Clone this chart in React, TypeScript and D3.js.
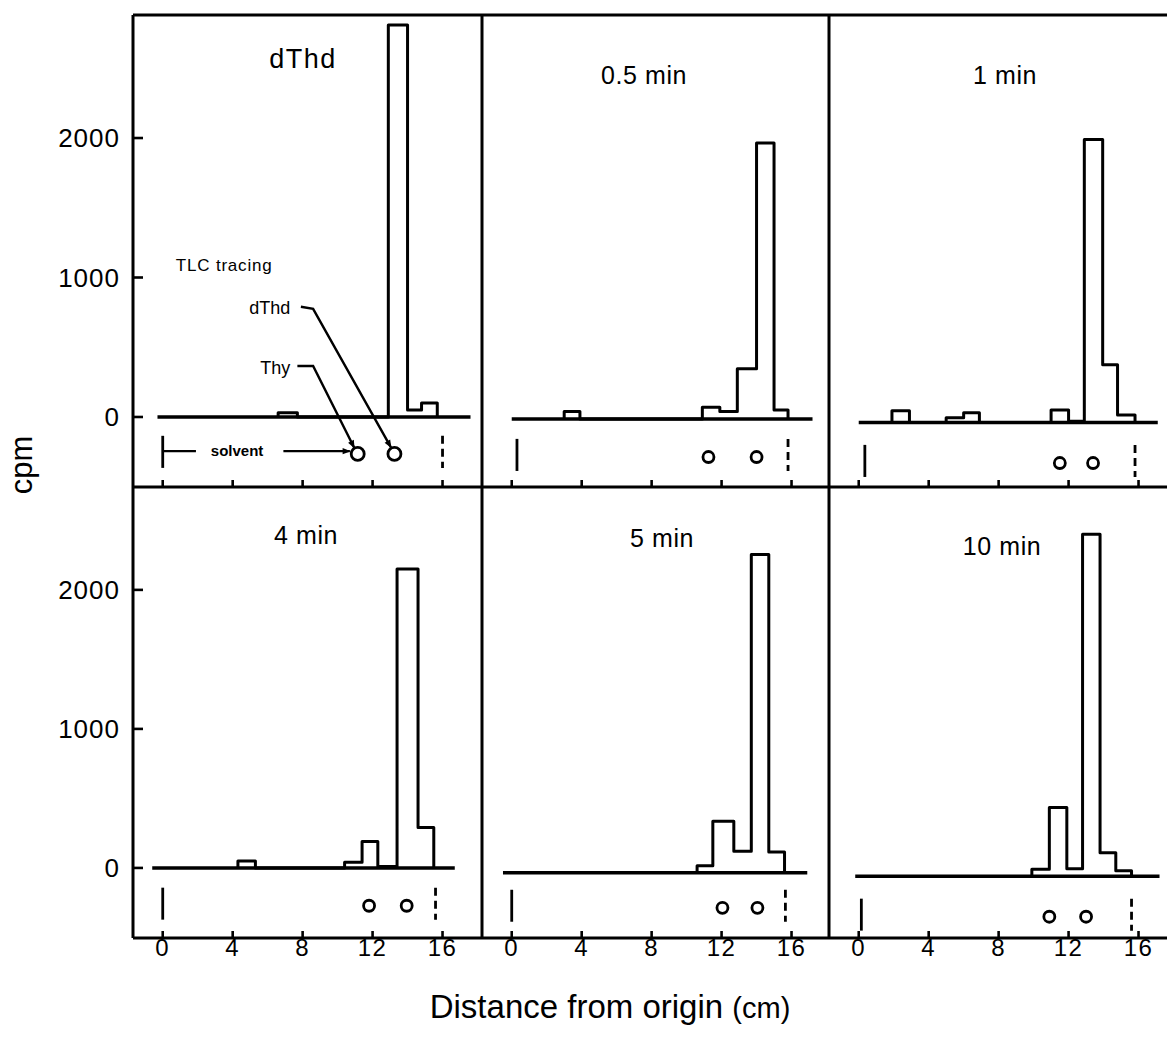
import React from 'react';
import * as d3 from 'd3';

// TLC radioactivity scans, cpm per strip (cm from origin)
const panelTitles = ['dThd', '0.5 min', '1 min', '4 min', '5 min', '10 min'];
const xTicks = [0, 4, 8, 12, 16];
const yTicks = [0, 1000, 2000];

const binsDThd = [
  { x0: 6.6, x1: 7.7, cpm: 30 },
  { x0: 12.9, x1: 14.0, cpm: 2810 },
  { x0: 14.0, x1: 14.8, cpm: 50 },
  { x0: 14.8, x1: 15.7, cpm: 100 },
];
const bins05 = [
  { x0: 3.0, x1: 3.9, cpm: 55 },
  { x0: 10.9, x1: 11.9, cpm: 85 },
  { x0: 11.9, x1: 12.9, cpm: 55 },
  { x0: 12.9, x1: 14.0, cpm: 360 },
  { x0: 14.0, x1: 15.0, cpm: 1980 },
  { x0: 15.0, x1: 15.8, cpm: 65 },
];
const bins1 = [
  { x0: 1.9, x1: 2.9, cpm: 85 },
  { x0: 5.0, x1: 6.0, cpm: 35 },
  { x0: 6.0, x1: 6.9, cpm: 70 },
  { x0: 11.0, x1: 12.0, cpm: 90 },
  { x0: 12.0, x1: 12.9, cpm: 10 },
  { x0: 12.9, x1: 13.95, cpm: 2030 },
  { x0: 13.95, x1: 14.8, cpm: 415 },
  { x0: 14.8, x1: 15.8, cpm: 55 },
];
const bins4 = [
  { x0: 4.3, x1: 5.3, cpm: 50 },
  { x0: 10.4, x1: 11.4, cpm: 40 },
  { x0: 11.4, x1: 12.3, cpm: 190 },
  { x0: 12.3, x1: 13.4, cpm: 10 },
  { x0: 13.4, x1: 14.6, cpm: 2150 },
  { x0: 14.6, x1: 15.5, cpm: 290 },
];
const bins5 = [
  { x0: 10.6, x1: 11.5, cpm: 50 },
  { x0: 11.5, x1: 12.7, cpm: 370 },
  { x0: 12.7, x1: 13.7, cpm: 155 },
  { x0: 13.7, x1: 14.7, cpm: 2290 },
  { x0: 14.7, x1: 15.6, cpm: 150 },
];
const bins10 = [
  { x0: 9.9, x1: 10.9, cpm: 50 },
  { x0: 10.9, x1: 11.9, cpm: 495 },
  { x0: 11.9, x1: 12.8, cpm: 55 },
  { x0: 12.8, x1: 13.8, cpm: 2460 },
  { x0: 13.8, x1: 14.7, cpm: 170 },
  { x0: 14.7, x1: 15.6, cpm: 40 },
];
const allBins = [binsDThd, bins05, bins1, bins4, bins5, bins10];

// scan baseline (cpm offset) and its extent in cm
const baselineCpm = [0, -15, -40, 0, -35, -60];
const baselineFrom = [-0.3, 0, 0, -0.6, -0.5, -0.2];
const baselineTo = [17.6, 17.2, 17.1, 16.7, 16.9, 17.2];

// TLC tracing marks: origin, Thy spot, dThd spot, solvent front
const originCm = [0, 0.3, 0.35, 0, 0, 0.15];
const thySpotCm = [11.15, 11.25, 11.5, 11.8, 12.05, 10.9];
const dthdSpotCm = [13.25, 14.0, 13.4, 13.95, 14.05, 13.0];
const frontCm = [16.0, 15.8, 15.8, 15.6, 15.65, 15.6];
const spotLevel = [-265, -287, -330, -272, -287, -351];

const FONT = "'Liberation Sans', Arial, Helvetica, sans-serif";
const W = 1167;
const H = 1051;
const panelLefts = [133, 482, 829];
const panelW = 348;
const rows = [
  { top: 15, bottom: 487, domain: [-502, 2882] },
  { top: 487, bottom: 938, domain: [-504, 2740] },
];
const titlePos = [
  [170, 68], [162, 84], [176, 84],
  [173, 544], [180, 547], [173, 555],
];

function stepPoints(bins) {
  const pts = [];
  bins.forEach((b, k) => {
    const prev = bins[k - 1];
    if (!prev || Math.abs(prev.x1 - b.x0) > 0.05) {
      if (prev) pts.push([prev.x1, 0]);
      pts.push([b.x0, 0]);
    }
    pts.push([b.x0, b.cpm], [b.x1, b.cpm]);
  });
  pts.push([bins[bins.length - 1].x1, 0]);
  return pts;
}

function Panel({ i }) {
  const row = rows[i < 3 ? 0 : 1];
  const left = panelLefts[i % 3];
  const x = d3.scaleLinear().domain([-1.7, 18.2]).range([left, left + panelW]);
  const y = d3.scaleLinear().domain(row.domain).range([row.bottom, row.top]);
  const base = baselineCpm[i];
  const line = d3.line().x((d) => x(d[0])).y((d) => y(base + d[1]));
  const lvl = spotLevel[i];
  const big = i === 0;
  const r = big ? 6.5 : 5.5;

  return (
    <g>
      <text x={left + titlePos[i][0]} y={titlePos[i][1]} textAnchor="middle"
        fontFamily={FONT} fontSize={i === 0 ? 27 : 25} letterSpacing={i === 0 ? 1.5 : 0.6}>
        {panelTitles[i]}
      </text>
      <line x1={x(baselineFrom[i])} x2={x(baselineTo[i])} y1={y(base)} y2={y(base)}
        stroke="#000" strokeWidth={3.4} />
      <path d={line(stepPoints(allBins[i]))} fill="none" stroke="#000" strokeWidth={3}
        strokeLinejoin="round" />
      {/* origin, spots, solvent front */}
      <line x1={x(originCm[i])} x2={x(originCm[i])} y1={y(lvl + 130)} y2={y(lvl - 100)}
        stroke="#000" strokeWidth={2.8} />
      <line x1={x(frontCm[i])} x2={x(frontCm[i])} y1={y(lvl + 130)} y2={y(lvl - 100)}
        stroke="#000" strokeWidth={2.8} strokeDasharray="8,5" />
      <circle cx={x(thySpotCm[i])} cy={y(lvl)} r={r} fill="none" stroke="#000" strokeWidth={2.8} />
      <circle cx={x(dthdSpotCm[i])} cy={y(lvl)} r={r} fill="none" stroke="#000" strokeWidth={2.8} />
      {/* x ticks on the bottom edge */}
      {xTicks.map((t) => (
        <line key={t} x1={x(t)} x2={x(t)} y1={row.bottom} y2={row.bottom - 7}
          stroke="#000" strokeWidth={2.6} />
      ))}
      {i >= 3 && xTicks.map((t) => (
        <text key={'l' + t} x={x(t)} y={956} textAnchor="middle" fontFamily={FONT}
          fontSize={24} letterSpacing={1.5}>{t}</text>
      ))}
      {big && <Annotations x={x} y={y} lvl={lvl} />}
    </g>
  );
}

function Annotations({ x, y, lvl }) {
  const pl = d3.line().x((d) => x(d[0])).y((d) => y(d[1]));
  const thyLeader = [[7.7, 365], [8.6, 365], [10.95, -220]];
  const dthdLeader = [[7.9, 790], [8.6, 775], [13.05, -218]];
  const sy = lvl + 20;
  return (
    <g fontFamily={FONT}>
      <text x={x(0.75)} y={y(1090)} dy="0.35em" fontSize={17} letterSpacing={0.8}>TLC tracing</text>
      <text x={x(7.3)} y={y(780)} dy="0.35em" fontSize={18} textAnchor="end">dThd</text>
      <text x={x(7.3)} y={y(350)} dy="0.35em" fontSize={18} textAnchor="end">Thy</text>
      <path d={pl(thyLeader)} fill="none" stroke="#000" strokeWidth={2.4} markerEnd="url(#arr)" />
      <path d={pl(dthdLeader)} fill="none" stroke="#000" strokeWidth={2.4} markerEnd="url(#arr)" />
      <line x1={x(0)} x2={x(1.9)} y1={y(sy)} y2={y(sy)} stroke="#000" strokeWidth={2.4} />
      <text x={x(2.75)} y={y(sy)} dy="0.35em" fontSize={15} fontWeight="bold">solvent</text>
      <line x1={x(6.9)} x2={x(10.7)} y1={y(sy)} y2={y(sy)} stroke="#000" strokeWidth={2.4}
        markerEnd="url(#arr)" />
    </g>
  );
}

export default function App() {
  const yAxis = rows.map((row) => d3.scaleLinear().domain(row.domain).range([row.bottom, row.top]));
  const right = panelLefts[2] + panelW;
  return (
    <svg width={W} height={H} style={{ position: 'absolute', left: 0, top: 0, background: '#fff' }}>
      <defs>
        <marker id="arr" viewBox="0 0 10 10" refX="9" refY="5" markerUnits="userSpaceOnUse"
          markerWidth="9" markerHeight="8" orient="auto">
          <path d="M0,1 L10,5 L0,9 z" fill="#000" />
        </marker>
      </defs>
      <rect width={W} height={H} fill="#fff" />
      {/* frame */}
      <g stroke="#000" strokeWidth={3} fill="none">
        <line x1={133} x2={right} y1={15} y2={15} />
        <line x1={133} x2={right} y1={487} y2={487} />
        <line x1={133} x2={right} y1={938} y2={938} />
        {[...panelLefts, right].map((lx) => (
          <line key={lx} x1={lx} x2={lx} y1={15} y2={938} />
        ))}
      </g>
      {yAxis.map((ys, ri) => (
        <g key={ri}>
          {yTicks.map((t) => (
            <g key={t}>
              <line x1={133} x2={143} y1={ys(t)} y2={ys(t)} stroke="#000" strokeWidth={2.6} />
              <text x={120} y={ys(t)} dy="0.36em" textAnchor="end" fontFamily={FONT}
                fontSize={26} letterSpacing={1}>{t}</text>
            </g>
          ))}
        </g>
      ))}
      {panelTitles.map((_, i) => <Panel key={i} i={i} />)}
      <text transform="translate(32,465) rotate(-90)" textAnchor="middle" fontFamily={FONT}
        fontSize={31}>cpm</text>
      <text x={610} y={1018} textAnchor="middle" fontFamily={FONT} fontSize={33}>
        Distance from origin <tspan fontSize={29}>(cm)</tspan>
      </text>
    </svg>
  );
}
